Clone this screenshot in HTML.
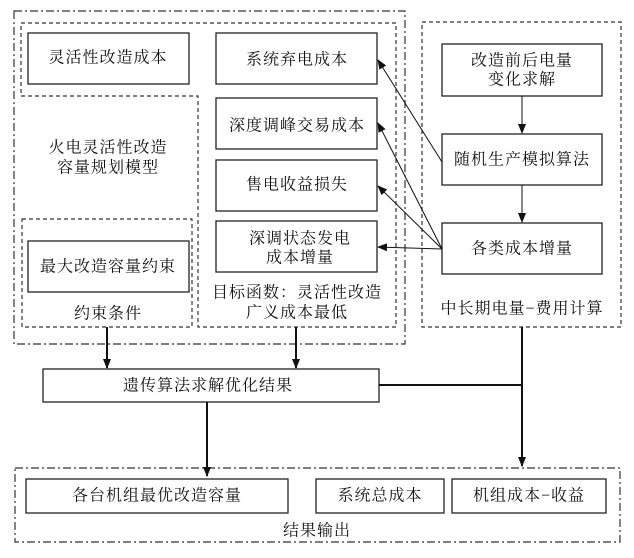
<!DOCTYPE html>
<html><head><meta charset="utf-8"><style>
html,body{margin:0;padding:0;background:#fff;}
svg text{font-family:"Liberation Serif","Noto Serif CJK SC","Noto Sans CJK SC",serif;font-size:16px;letter-spacing:1px;fill:#111;text-anchor:middle;dominant-baseline:central;}
</style></head><body>
<svg width="634" height="553" viewBox="0 0 634 553" xmlns="http://www.w3.org/2000/svg">
<defs>
<marker id="a" markerWidth="10" markerHeight="8" refX="9" refY="4" orient="auto" markerUnits="userSpaceOnUse"><path d="M0,0 L10,4 L0,8 z" fill="#111"/></marker>
</defs>
<g fill="none" stroke="#333" stroke-width="1.2">
<rect x="14" y="11" width="391" height="333" stroke-dasharray="8,3,2,3"/>
<path d="M21,23 H396 V327 H198 V96 H21 Z" stroke-dasharray="4,3"/>
<rect x="22" y="219" width="170" height="108" stroke-dasharray="4,3"/>
<rect x="422" y="22" width="199" height="305" stroke-dasharray="4,3"/>
<rect x="15" y="468" width="605" height="74" stroke-dasharray="8,3,2,3"/>
</g>
<g fill="#fff" stroke="#222" stroke-width="1.3">
<rect x="28" y="33" width="161" height="51"/>
<rect x="216" y="33" width="161" height="51"/>
<rect x="216" y="98" width="161" height="51"/>
<rect x="216" y="160" width="161" height="51"/>
<rect x="216" y="221" width="161" height="51"/>
<rect x="28" y="241" width="161" height="51"/>
<rect x="442" y="44" width="160" height="52"/>
<rect x="442" y="134" width="160" height="51"/>
<rect x="442" y="223" width="160" height="51"/>
<rect x="43" y="369" width="336" height="33"/>
<rect x="26" y="479" width="262" height="34"/>
<rect x="316" y="479" width="128" height="34"/>
<rect x="452" y="479" width="154" height="34"/>
</g>
<g stroke="#111" stroke-width="1" fill="none">
<line x1="442" y1="162" x2="378" y2="60" marker-end="url(#a)"/>
<line x1="442" y1="249" x2="378" y2="123" marker-end="url(#a)"/>
<line x1="442" y1="249" x2="378" y2="186" marker-end="url(#a)"/>
<line x1="442" y1="249" x2="378" y2="247" marker-end="url(#a)"/>
<line x1="522" y1="96" x2="522" y2="133" marker-end="url(#a)"/>
<line x1="522" y1="185" x2="522" y2="222" marker-end="url(#a)"/>
</g>
<g stroke="#111" stroke-width="2" fill="none">
<line x1="107" y1="327" x2="107" y2="368" marker-end="url(#a)"/>
<line x1="296" y1="327" x2="296" y2="368" marker-end="url(#a)"/>
<line x1="207" y1="402" x2="207" y2="476" marker-end="url(#a)"/>
<line x1="379" y1="385" x2="522" y2="385"/>
<line x1="522" y1="327" x2="522" y2="466" marker-end="url(#a)"/>
</g>
<text x="108" y="58">灵活性改造成本</text>
<text x="297" y="60">系统弃电成本</text>
<text x="297" y="126">深度调峰交易成本</text>
<text x="297" y="185">售电收益损失</text>
<text x="300" y="239">深调状态发电</text>
<text x="300" y="258">成本增量</text>
<text x="108" y="267">最大改造容量约束</text>
<text x="108" y="148">火电灵活性改造</text>
<text x="108" y="168">容量规划模型</text>
<text x="108" y="314">约束条件</text>
<text x="297" y="293">目标函数：灵活性改造</text>
<text x="297" y="313">广义成本最低</text>
<text x="522" y="61">改造前后电量</text>
<text x="522" y="80">变化求解</text>
<text x="522" y="160">随机生产模拟算法</text>
<text x="522" y="249">各类成本增量</text>
<text x="522" y="309">中长期电量−费用计算</text>
<text x="208" y="386">遗传算法求解优化结果</text>
<text x="157" y="496">各台机组最优改造容量</text>
<text x="380" y="496">系统总成本</text>
<text x="529" y="496">机组成本−收益</text>
<text x="317" y="531">结果输出</text>
</svg>
</body></html>
